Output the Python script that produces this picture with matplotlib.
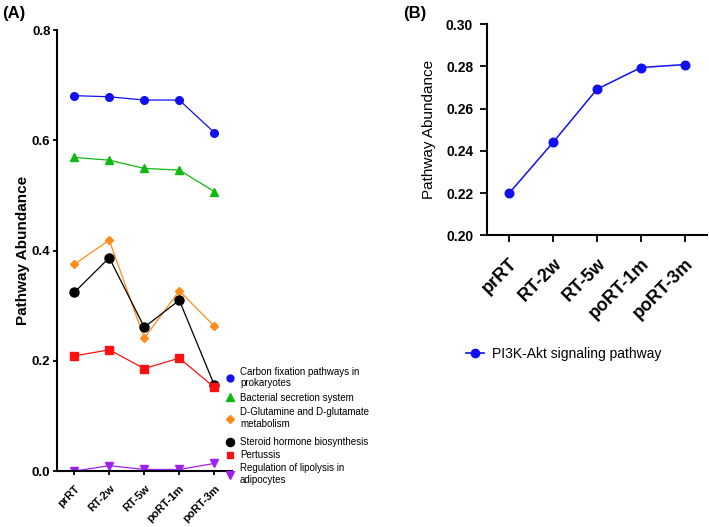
import matplotlib
matplotlib.use("Agg")
import matplotlib.pyplot as plt
from matplotlib.lines import Line2D

plt.rcParams['font.family'] = ['Liberation Sans', 'DejaVu Sans']

groups = ['prRT', 'RT-2w', 'RT-5w', 'poRT-1m', 'poRT-3m']

carbon = [0.681, 0.679, 0.673, 0.673, 0.614]
bacterial = [0.569, 0.564, 0.549, 0.546, 0.507]
glutamine = [0.375, 0.419, 0.241, 0.327, 0.263]
steroid = [0.324, 0.387, 0.261, 0.310, 0.156]
pertussis = [0.209, 0.220, 0.186, 0.205, 0.152]
lipolysis = [0.000, 0.010, 0.003, 0.003, 0.014]

pi3k = [0.2199, 0.2440, 0.2692, 0.2795, 0.2809]

names_a = ['Carbon fixation pathways in\nprokaryotes',
           'Bacterial secretion system',
           'D-Glutamine and D-glutamate\nmetabolism',
           'Steroid hormone biosynthesis',
           'Pertussis',
           'Regulation of lipolysis in\nadipocytes']
name_b = 'PI3K-Akt signaling pathway'

series_a = [carbon, bacterial, glutamine, steroid, pertussis, lipolysis]
colors_a = ['#1010f0', '#10b810', '#ff8c1a', '#000000', '#ff1010', '#a020f0']
markers_a = ['o', '^', 'D', 'o', 's', 'v']
msizes_a = [5.5, 6, 4, 6.5, 5.5, 6]

fig = plt.figure(figsize=(7.09, 5.27), dpi=100)

def style_axes(ax):
    for s in ['top', 'right']:
        ax.spines[s].set_visible(False)
    for s in ['left', 'bottom']:
        ax.spines[s].set_linewidth(1.5)
    ax.set_xlim(-0.5, 4.5)

# panel A
axA = fig.add_axes([0.080, 0.106, 0.247, 0.837])
x = list(range(len(groups)))
handles = []
for vals, c, m, ms, lab in zip(series_a, colors_a, markers_a, msizes_a, names_a):
    axA.plot(x, vals, color=c, marker=m, markersize=ms, linewidth=0.9)
    handles.append(Line2D([], [], color=c, marker=m, markersize=ms * 0.9, linestyle='none', label=lab))
style_axes(axA)
axA.tick_params(width=1.3, length=3, pad=1.5)
axA.set_ylim(0, 0.8)
axA.set_yticks([0.0, 0.2, 0.4, 0.6, 0.8])
axA.set_yticklabels(['0.0', '0.2', '0.4', '0.6', '0.8'], fontsize=9.5, fontweight='bold')
axA.set_xticks(x)
axA.set_xticklabels(groups, rotation=45, ha='right', rotation_mode='anchor', fontsize=8, fontweight='bold')
axA.tick_params(axis='x', pad=6)
axA.set_ylabel('Pathway Abundance', fontsize=11, fontweight='bold', labelpad=1)

leg1 = fig.legend(handles=handles[:3], loc='upper left', bbox_to_anchor=(0.318, 0.304),
                  frameon=False, fontsize=7, handlelength=1.0, handletextpad=0.5,
                  labelspacing=0.45, borderaxespad=0, borderpad=0)
leg2 = fig.legend(handles=handles[3:], loc='upper left', bbox_to_anchor=(0.318, 0.17),
                  frameon=False, fontsize=7, handlelength=1.0, handletextpad=0.5,
                  labelspacing=0.3, borderaxespad=0, borderpad=0)

# panel B
axB = fig.add_axes([0.687, 0.5535, 0.31, 0.4005])
axB.plot(x, pi3k, color='#1010f0', marker='o', markersize=6.2, linewidth=1.1, label=name_b)
style_axes(axB)
axB.tick_params(width=1.3, length=5, pad=5)
axB.set_ylim(0.20, 0.30)
yb = [0.20, 0.22, 0.24, 0.26, 0.28, 0.30]
axB.set_yticks(yb)
axB.set_yticklabels(['%.2f' % v for v in yb], fontsize=10, fontweight='bold')
axB.set_xticks(x)
axB.set_xticklabels(groups, rotation=45, ha='right', rotation_mode='anchor', fontsize=13, fontweight='bold')
axB.tick_params(axis='x', pad=9)
axB.set_ylabel('Pathway Abundance', fontsize=11, labelpad=7)
fig.legend(handles=[Line2D([], [], color='#1010f0', marker='o', markersize=6, linewidth=1.2, label=name_b)],
           loc='center left', bbox_to_anchor=(0.657, 0.328), frameon=False, fontsize=10,
           handlelength=1.3, handletextpad=0.6, borderaxespad=0, borderpad=0)

fig.text(0.003, 0.975, '(A)', fontsize=12, fontweight='bold', va='center')
fig.text(0.568, 0.975, '(B)', fontsize=12, fontweight='bold', va='center')

fig.savefig('out.png', dpi=100)
